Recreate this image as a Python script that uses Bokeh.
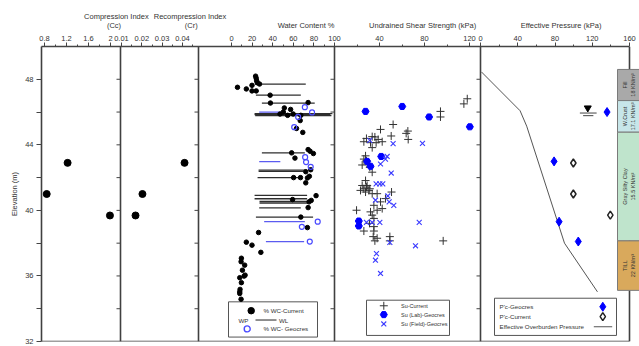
from math import pi
from bokeh.plotting import figure
from bokeh.layouts import column
from bokeh.models import Range1d, LinearAxis, FixedTicker, Label
from bokeh.embed import file_html
from bokeh.resources import INLINE

FONT = "Liberation Sans"
TXT = "#333333"

# ---------------- data ----------------
elev_ticks = [32, 36, 40, 44, 48]
elev_minor = [34, 38, 42, 46]

cc_ticks = [0.8, 1.2, 1.6, 2.0]
cc_tick_labels = ["0.8", "1.2", "1.6", "2"]
cc_minor = [1.0, 1.4, 1.8]
cr_ticks = [0.01, 0.02, 0.03, 0.04]
cr_tick_labels = ["0.01", "0.02", "0.03", "0.04"]
cr_minor = [0.015, 0.025, 0.035, 0.045]
wc_ticks = [0, 20, 40, 60, 80, 100]
wc_tick_labels = ["0", "20", "40", "60", "80", "100"]
wc_minor = [10, 30, 50, 70, 90]
su_ticks = [40, 80, 120]
su_tick_labels = ["40", "80", "120"]
su_minor = [20, 60, 100]
pr_ticks = [0, 40, 80, 120, 160]
pr_tick_labels = ["0", "40", "80", "120", "160"]
pr_minor = [20, 60, 100, 140]

cc_elev = [42.9, 41.0, 39.69]
cc_value = [1.22, 0.84, 1.99]
cr_elev = [42.9, 41.0, 39.69]
cr_value = [0.041, 0.0203, 0.0169]

wc_cur_value = [23.4, 24.0, 24.4, 25.0, 5.8, 14.4, 19.9, 27.2, 19.9, 24.0,
                37.5, 37.8, 74.4, 51.3, 57.4, 50.3, 47.1, 54.5, 59.9, 67.3,
                66.7, 63.1, 69.2, 74.4, 76.3, 79.5, 58.4, 61.6, 72.1, 76.9,
                60.3, 67.0, 73.7, 75.6, 72.1, 82.1, 59.3, 75.3, 77.4, 74.4,
                67.3, 73.7, 26.3, 14.4, 19.9, 28.5, 9.6, 9.3, 12.8, 10.6,
                13.2, 12.2, 8.0, 9.6, 8.3, 8.0, 8.0, 9.3]
wc_cur_elev = [48.19, 48.06, 47.91, 47.79, 47.51, 47.41, 47.63, 47.71, 47.29, 47.29,
               47.03, 46.55, 46.58, 46.25, 46.16, 46.0, 45.88, 45.8, 45.88, 45.8,
               45.48, 45.0, 44.76, 43.71, 43.61, 43.47, 43.51, 43.19, 42.36, 42.48,
               42.0, 42.0, 41.98, 42.08, 41.68, 40.9, 40.66, 40.52, 40.61, 40.17,
               39.59, 38.95, 38.65, 38.06, 37.88, 37.44, 37.08, 36.87, 36.66, 36.35,
               36.05, 35.99, 35.89, 35.59, 35.18, 35.03, 34.93, 34.58]
wc_geo_value = [71.2, 78.2, 64.7, 60.9, 71.5, 72.4, 76.9, 83.7, 68.3, 76.0]
wc_geo_elev = [46.3, 45.98, 45.7, 45.08, 43.25, 42.95, 42.66, 39.31, 39.0, 38.1]

limits_cur_elev = [47.71, 47.03, 46.55, 45.90, 45.84, 45.78, 43.51, 42.46, 42.38, 42.0,
                   40.92, 40.71, 40.55, 40.45, 40.15, 39.59]
wp_cur = [23.1, 23.7, 29.5, 22.4, 22.4, 23.0, 29.5, 26.3, 26.3, 25.3,
          22.4, 22.4, 27.2, 27.2, 26.9, 23.7]
wl_cur = [72.1, 67.3, 80.8, 98.0, 96.0, 97.0, 71.2, 72.1, 70.0, 68.0,
          73.4, 73.4, 76.9, 74.4, 67.3, 79.2]
limits_geo_elev = [46.0, 42.97, 39.31, 38.1]
wp_geo = [26.9, 26.9, 31.7, 33.4]
wl_geo = [48.7, 47.4, 71.2, 70.5]

su_cur_value = [118, 115, 94.2, 94.2, 52.1, 40.9, 65.2, 63.7, 65.5, 50.4,
                28.4, 33.5, 35.9, 38.8, 42.4, 26.1, 32.0, 37.0, 33.5,
                27.6, 26.1, 28.4, 24.6, 31.4, 33.5, 29.0,
                27.6, 24.6, 29.0, 26.1, 30.5, 27.6, 23.1, 33.5, 31.4, 28.4, 37.9,
                50.7, 45.3, 40.9, 35.0, 42.4, 37.9, 32.0, 33.5, 35.0, 19.6, 31.1,
                35.0, 26.1, 35.0, 34.4, 37.9, 35.9, 49.2, 49.2, 96.6]
su_cur_elev = [46.81, 46.5, 46.04, 45.7, 45.24, 44.94, 44.84, 44.7, 44.33, 44.54,
               44.39, 44.5, 44.48, 44.33, 44.19, 44.19, 44.13, 44.13, 43.83,
               43.33, 43.13, 43.03, 42.77, 42.63, 42.33, 42.83,
               41.82, 41.52, 41.52, 41.32, 41.22, 41.12, 41.22, 41.02, 41.32, 41.42, 41.02,
               41.12, 40.72, 40.52, 40.31, 40.11, 40.01, 39.91, 39.71, 39.51, 40.01, 39.21,
               39.01, 38.74, 38.74, 38.4, 38.3, 38.14, 38.4, 38.14, 38.14]
su_lab_value = [27.6, 60.2, 84.1, 120.3, 41.5, 29.0, 32.0, 21.6, 21.6]
su_lab_elev = [46.04, 46.34, 45.7, 45.1, 43.29, 42.99, 42.69, 39.35, 39.05]
su_field_value = [31.4, 52.1, 78.2, 46.8, 45.3, 40.9, 50.4, 37.0, 40.3, 42.9,
                  47.4, 48.6, 52.7, 36.4, 28.4, 33.5, 40.3, 75.3, 49.2, 72.0,
                  37.3, 36.4, 40.9]
su_field_elev = [44.27, 44.07, 44.09, 43.29, 43.13, 42.83, 42.28, 41.62, 41.62, 41.62,
                 40.88, 40.52, 40.31, 40.62, 39.27, 39.27, 39.27, 39.27, 38.04, 37.84,
                 37.36, 36.96, 36.15]

eop_value = [1.0, 42.5, 49.6, 90.2, 125.6]
eop_elev = [48.45, 46.08, 45.14, 38.0, 35.03]
pc_geo_value = [135.9, 79.0, 84.4, 105.0]
pc_geo_elev = [46.0, 42.99, 39.31, 38.1]
pc_cur_value = [99.7, 99.7, 139.4]
pc_cur_elev = [42.89, 41.0, 39.71]
water_table_value = [115.2]
water_table_elev = [46.25]

soil_names = ["Fill", "W.Crust", "Gray Silty Clay", "TILL"]
soil_weights = ["18 KN/m³", "17.1 KN/m³", "15.5 KN/m³", "22 KN/m³"]
soil_top = [48.6, 46.7, 44.77, 38.14]
soil_bottom = [46.7, 44.77, 38.14, 35.12]
soil_colors = ["#a9a9a9", "#c7e6e9", "#bfe4cc", "#d9a95c"]

# ---------------- layout (pixels measured from the frame's left edge) ----------------
LEFT = 41
FW, FH = 598, 295
HEAD_H = 30
Y0, Y1 = 32, 50
BORDERS = [79, 157, 293, 439, 588]
PANEL = {  # pixel of reference value, reference value, pixels per unit
    "cc": (3.0, 0.8, 55.0),
    "cr": (80.0, 0.01, 2033.33),
    "wc": (190.0, 0.0, 1.03),
    "su": (293.0, 0.0, 1.125),
    "pr": (439.0, 0.0, 0.93125),
}


def px(name, v):
    a, v0, k = PANEL[name]
    return round(a + (v - v0) * k, 3)


# ---------------- header with the panel titles ----------------
head = figure(width=LEFT + FW, height=HEAD_H, x_range=Range1d(-LEFT, FW),
              y_range=Range1d(HEAD_H, 0), x_axis_type=None, y_axis_type=None,
              toolbar_location=None, output_backend="svg", min_border=0,
              outline_line_color=None, background_fill_color="white",
              border_fill_color="white")
head.title = None


def hlabel(x, y, text, size=7.5):
    head.add_layout(Label(x=x, y=y, text=text, text_font=FONT, text_font_size=f"{size}px",
                          text_align="center", text_baseline="middle", text_color=TXT))


hlabel(39, 15.5, "Compression Index")
hlabel(36.5, 24.5, "(Cc)")
hlabel(117.7, 15.5, "Recompression Index")
hlabel(119, 24.5, "(Cr)")
hlabel(241.7, 25, "Water Content %")
hlabel(366.3, 25, "Undrained Shear Strength (kPa)")
hlabel(514.3, 25, "Effective Pressure (kPa)")

# ---------------- main plot ----------------
p = figure(frame_width=FW, frame_height=FH,
           x_range=Range1d(0, FW), y_range=Range1d(Y0, Y1),
           x_axis_type=None, y_axis_type=None,
           toolbar_location=None, output_backend="svg",
           min_border_left=LEFT, min_border_right=0, min_border_top=16, min_border_bottom=5,
           outline_line_color=None, background_fill_color="white", border_fill_color="white")
p.title = None

for name, (a, v0, k) in PANEL.items():
    p.extra_x_ranges[name] = Range1d(start=v0 - a / k, end=v0 + (FW - a) / k)

top_ticks, top_minor, overrides = [], [], {}
for name, ticks, labels, minors in [("cc", cc_ticks, cc_tick_labels, cc_minor),
                                    ("cr", cr_ticks, cr_tick_labels, cr_minor),
                                    ("wc", wc_ticks, wc_tick_labels, wc_minor),
                                    ("su", su_ticks, su_tick_labels, su_minor),
                                    ("pr", pr_ticks, pr_tick_labels, pr_minor)]:
    for v, lab in zip(ticks, labels):
        xx = px(name, v)
        top_ticks.append(xx)
        overrides[xx] = lab
    for v in minors:
        top_minor.append(px(name, v))

top_axis = LinearAxis(ticker=FixedTicker(ticks=top_ticks, minor_ticks=top_minor),
                      major_label_overrides=overrides, bounds=(0, BORDERS[-1]),
                      major_tick_out=4, major_tick_in=0, minor_tick_out=2, minor_tick_in=0,
                      major_label_standoff=2, major_label_text_font=FONT,
                      major_label_text_font_size="7.5px", major_label_text_color=TXT,
                      axis_line_color="#444444", axis_line_width=1.5,
                      major_tick_line_color="#444444", minor_tick_line_color="#444444")
p.add_layout(top_axis, "above")

left_axis = LinearAxis(ticker=FixedTicker(ticks=elev_ticks, minor_ticks=elev_minor),
                       axis_label="Elevation (m)", axis_label_standoff=3,
                       axis_label_text_font=FONT, axis_label_text_font_size="7.5px",
                       axis_label_text_font_style="normal", axis_label_text_color=TXT,
                       major_tick_out=5, major_tick_in=0, minor_tick_out=5, minor_tick_in=0,
                       major_label_standoff=3, major_label_text_font=FONT,
                       major_label_text_font_size="7.5px", major_label_text_color=TXT,
                       axis_line_color="#404040", axis_line_width=1.6,
                       major_tick_line_color="#444444", minor_tick_line_color="#444444")
p.add_layout(left_axis, "left")


def label(x, y, text, size, align="center", angle=0.0):
    p.add_layout(Label(x=x, y=y, text=text, text_font=FONT, text_font_size=f"{size}px",
                       text_align=align, text_baseline="middle", angle=angle,
                       text_color=TXT))


# panel borders and inward ticks
bx0 = BORDERS + [0]
bx1 = BORDERS + [BORDERS[-1]]
by0 = [Y0] * len(BORDERS) + [Y0]
by1 = [Y1] * len(BORDERS) + [Y0]
p.segment(x0=bx0, y0=by0, x1=bx1, y1=by1, line_color="#404040", line_width=1.6)
tx0, tx1, ty = [], [], []
for b in BORDERS[:-1]:
    for yv in sorted(elev_ticks + elev_minor):
        if Y0 < yv < Y1:
            tx0.append(b - 4)
            tx1.append(b)
            ty.append(yv)
p.segment(x0=tx0, y0=ty, x1=tx1, y1=ty, line_color="#444444", line_width=1)

# legend boxes
p.quad(left=[187, 325, 453], right=[276, 408, 575], top=[34.42, 34.52, 34.64],
       bottom=[32.27, 32.37, 32.37], fill_color="white", line_color="#555555", line_width=1)

# ---- Cc / Cr ----
p.scatter(cc_value, cc_elev, x_range_name="cc", marker="circle", size=7, color="black")
p.scatter(cr_value, cr_elev, x_range_name="cr", marker="circle", size=7, color="black")

# ---- water content ----
p.segment(x0=wp_cur, y0=limits_cur_elev, x1=wl_cur, y1=limits_cur_elev, x_range_name="wc",
          line_color="#2e2e2e", line_width=1.3)
p.segment(x0=wp_geo, y0=limits_geo_elev, x1=wl_geo, y1=limits_geo_elev, x_range_name="wc",
          line_color="#5b5bf0", line_width=1.3)
p.scatter(wc_cur_value, wc_cur_elev, x_range_name="wc", marker="circle", size=4.5, color="black")
p.scatter(wc_geo_value, wc_geo_elev, x_range_name="wc", marker="circle", size=5,
          fill_color=None, line_color="#4a4aff", line_width=1.2)

# ---- undrained shear strength ----
p.scatter(su_cur_value, su_cur_elev, x_range_name="su", marker="cross", size=8,
          line_color="#333333", line_width=1)
p.scatter(su_lab_value, su_lab_elev, x_range_name="su", marker="hex", size=7,
          color="#0000ff")
p.scatter(su_field_value, su_field_elev, x_range_name="su", marker="x", size=7,
          line_color="#3a3aff", line_width=1.1)

# ---- effective pressure ----
p.line(eop_value, eop_elev, x_range_name="pr", line_color="#555555", line_width=1)
p.scatter(pc_geo_value, pc_geo_elev, x_range_name="pr", marker="diamond", size=9,
          color="#0000ff")
p.scatter(pc_cur_value, pc_cur_elev, x_range_name="pr", marker="diamond", size=8,
          fill_color="white", line_color="#222222", line_width=1.5)
p.scatter(water_table_value, water_table_elev, x_range_name="pr", marker="inverted_triangle",
          size=7, color="black")
wt = water_table_value[0]
p.segment(x0=[wt - 8.5, wt - 5], y0=[45.94, 45.78], x1=[wt + 9.5, wt + 6], y1=[45.94, 45.78],
          x_range_name="pr", line_color="#444444", line_width=1)

# ---- soil column ----
COL_L, COL_R = 576, 598
p.quad(left=COL_L, right=COL_R, top=soil_top, bottom=soil_bottom,
       fill_color=soil_colors, line_color="#7a7a7a", line_width=1)
for nm, wgt, t, b in zip(soil_names, soil_weights, soil_top, soil_bottom):
    mid = (t + b) / 2
    label(COL_L + 7.5, mid, nm, 5.5, angle=pi / 2)
    label(COL_L + 15.5, mid, wgt, 5.5, angle=pi / 2)

# ---- legends ----
p.scatter([209.7], [33.88], marker="circle", size=6.5, color="black")
p.segment(x0=[214], y0=[33.31], x1=[235], y1=[33.31], line_color="#222222", line_width=1)
p.scatter([205.7], [32.77], marker="circle", size=6, fill_color=None,
          line_color="#4a4aff", line_width=1.4)
label(222, 33.88, "% WC-Current", 6.2, align="left")
label(207, 33.31, "WP", 6.2, align="right")
label(237.5, 33.31, "WL", 6.2, align="left")
label(222, 32.77, "% WC- Geocres", 6.2, align="left")

p.scatter([342.3], [34.18], marker="cross", size=8, line_color="#333333", line_width=1)
p.scatter([342.3], [33.64], marker="hex", size=7, color="#0000ff")
p.scatter([342.3], [33.07], marker="x", size=7, line_color="#3a3aff", line_width=1.1)
label(359.5, 34.18, "Su-Current", 5.5, align="left")
label(359.5, 33.64, "Su (Lab)-Geocres", 5.5, align="left")
label(359.5, 33.07, "Su (Field)-Geocres", 5.5, align="left")

p.scatter([561.3], [34.12], marker="diamond", size=9, color="#0000ff")
p.scatter([561.3], [33.52], marker="diamond", size=8, fill_color="white",
          line_color="#222222", line_width=1.5)
p.segment(x0=[552.3], y0=[32.9], x1=[570.7], y1=[32.9], line_color="#555555", line_width=1)
label(458, 34.12, "P'c-Geocres", 6.2, align="left")
label(458, 33.52, "P'c-Current", 6.2, align="left")
label(458, 32.9, "Effective Overburden Pressure", 6.2, align="left")

layout = column(head, p)
open("out.html", "w").write(file_html(layout, INLINE))
